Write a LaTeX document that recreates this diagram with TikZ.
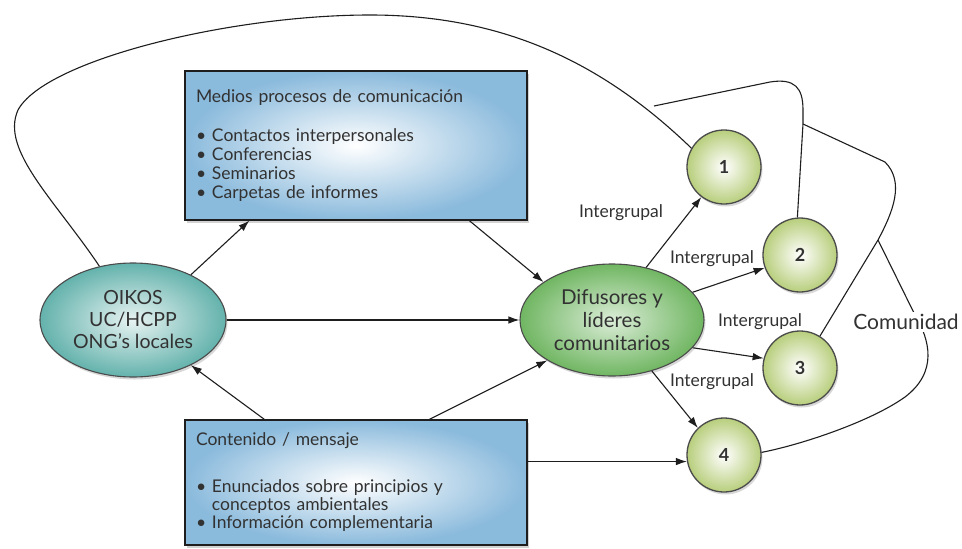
\documentclass[tikz,border=0pt]{standalone}
\usepackage{fontspec}
\setmainfont{Lato}
\usetikzlibrary{shapes.geometric,arrows.meta,shadows}
\definecolor{boxblue}{RGB}{138,186,220}
\definecolor{tealc}{RGB}{100,178,172}
\definecolor{greenc}{RGB}{112,182,98}
\definecolor{circc}{RGB}{184,206,124}
\definecolor{linec}{RGB}{30,30,30}
\definecolor{txtc}{RGB}{50,50,50}
\begin{document}
\begin{tikzpicture}[x=1pt,y=-1pt,
  conn/.style={draw=linec, line width=1.1pt},
  arr/.style={conn, -{Latex[length=11pt,width=7.5pt]}},
  boxst/.style={draw=linec, line width=1.3pt, inner color=white, outer color=boxblue,
     drop shadow={shadow xshift=2pt, shadow yshift=-3pt, opacity=0.35},
     align=left, text=txtc},
  ellst/.style={ellipse, draw=linec!80, line width=1.1pt, inner sep=0pt,
     drop shadow={shadow xshift=1.5pt, shadow yshift=-2.5pt, opacity=0.3}},
  elltxt/.style={align=center, text=txtc, font=\fontsize{19.5}{22}\selectfont},
  circst/.style={circle, draw=linec!80, line width=1.3pt, minimum size=74pt, inner sep=0pt,
     inner color=white, outer color=circc, text=txtc, font=\fontsize{18}{20}\selectfont\bfseries,
     drop shadow={shadow xshift=1.5pt, shadow yshift=-2.5pt, opacity=0.3}},
  lab/.style={text=txtc, font=\fontsize{17.5}{19}\selectfont, inner sep=1pt}
]
\useasboundingbox (0,0) rectangle (962,549);
\fill[white] (0,0) rectangle (962,549);

% boxes
\node[boxst, minimum width=342pt, minimum height=149pt, text width=320pt,
  font=\fontsize{17.5}{19}\selectfont] (medios) at (356,145.5)
  {Medios procesos de comunicación\\[20pt]
   • Contactos interpersonales\\
   • Conferencias\\
   • Seminarios\\
   • Carpetas de informes};
\node[boxst, minimum width=342pt, minimum height=125pt, text width=320pt,
  font=\fontsize{17.5}{18}\selectfont] (contenido) at (356,482.5)
  {Contenido / mensaje\\[29pt]
   • Enunciados sobre principios y\\
   \phantom{• }conceptos ambientales\\
   • Información complementaria};

% ellipses
\node[ellst, minimum width=186pt, minimum height=114pt, inner color=white!85!tealc, outer color=tealc] (oikos) at (133,320) {};
\node[elltxt] (oikostxt) at (oikos) {OIKOS\\UC/HCPP\\ONG’s locales};
\node[ellst, minimum width=184pt, minimum height=112pt, inner color=white!75!greenc, outer color=greenc] (dif) at (612,320) {};
\node[elltxt, font=\fontsize{20.5}{23}\selectfont] (diftxt) at (dif) {Difusores y\\líderes\\comunitarios};

% circles
\node[circst] (c1) at (724,167) {1};
\node[circst] (c2) at (800,255) {2};
\node[circst] (c3) at (800,368) {3};
\node[circst] (c4) at (724,455) {4};

% helper coordinates
\coordinate (j1) at (654,106);
\coordinate (j2) at (803,124);
\coordinate (j3) at (878,240);

% community lines (drawn first so labels can cover)
\draw[conn] (oikos.122) .. controls (55,200) and (0,150) .. (18,110)
  .. controls (45,60) and (230,15) .. (370,15)
  .. controls (500,15) and (600,60) .. (c1.150);
\draw[conn] (j1) -- (770,82) .. controls (795,78) and (803,88) .. (803,110) -- (j2) -- (c2.94);
\draw[conn] (c3.58) -- (j3) .. controls (893,212) and (905,182) .. (885,162) -- (j2);
\draw[conn] (j3) -- (915,315) .. controls (930,340) and (938,372) .. (905,397)
  .. controls (870,422) and (800,445) .. (c4.4);
\node[text=txtc, fill=white, inner sep=2pt, font=\fontsize{21}{22}\selectfont] (com) at (906,322) {Comunidad};

% arrows
\draw[arr] (oikos.38) -- ([xshift=65pt]medios.south west);
\draw[arr] ([xshift=285pt]medios.south west) -- (dif.151);
\draw[arr] (oikos.east) -- (dif.west);
\draw[arr] ([xshift=80pt]contenido.north west) -- (oikos.-38);
\draw[arr] ([xshift=245pt]contenido.north west) -- (dif.-148);
\draw[arr] (contenido.east |- c4.190) -- (c4.190);
\draw[arr] (dif.57) -- (c1.233);
\draw[arr] (dif.19) -- (c2.200);
\draw[arr] (dif.-19) -- (c3.165);
\draw[arr] (dif.-52) -- (c4.134);

% labels
\node[lab] (l1) at (621,213) {Intergrupal};
\node[lab] (l2) at (712,259) {Intergrupal};
\node[lab] (l3) at (760,322) {Intergrupal};
\node[lab] (l4) at (712,382) {Intergrupal};
\end{tikzpicture}
\end{document}
